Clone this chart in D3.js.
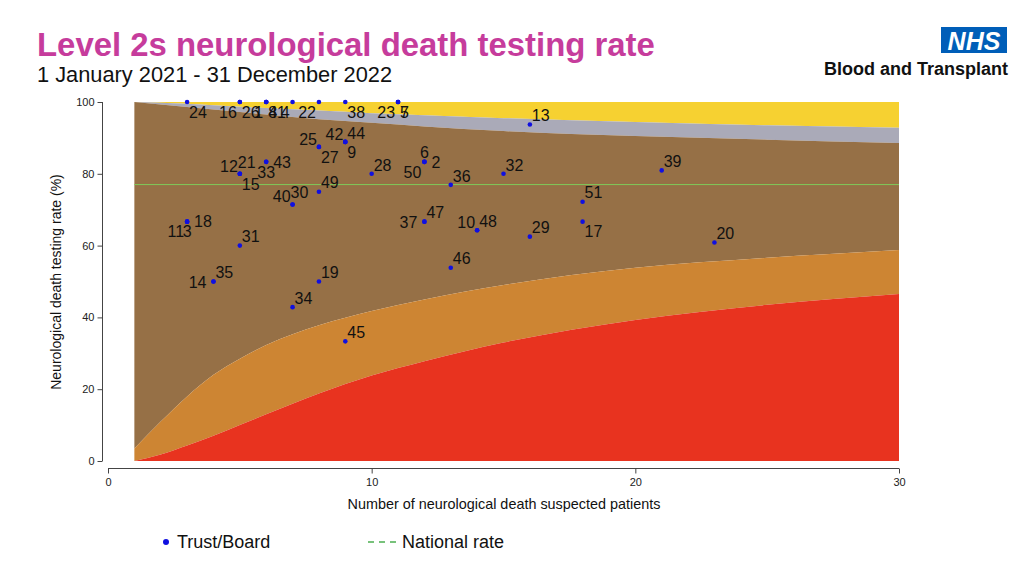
<!DOCTYPE html>
<html><head><meta charset="utf-8">
<script src="https://cdn.jsdelivr.net/npm/d3@7"></script>
<style>body{margin:0;background:#fff}svg{display:block}text{font-family:"Liberation Sans",Arial,sans-serif}</style>
</head><body><svg id="c" width="1024" height="576"></svg>
<script>
// ---- data ----
const limitN   = [1, 2, 3, 4, 5, 6, 8, 10, 12, 15, 20, 25, 30];
const upper998 = [100, 99.8, 99.5, 99.1, 98.7, 98.3, 97.6, 96.9, 96.3, 95.5, 94.4, 93.5, 92.8];
const upper95  = [100, 99.3, 98.6, 97.9, 97.2, 96.5, 95.2, 94.2, 93.2, 91.9, 90.5, 89.5, 88.6];
const lower95  = [3.5, 11, 18, 24, 28.5, 32.3, 37.8, 41.8, 45, 49, 53.8, 56.6, 58.8];
const lower998 = [0, 1.8, 4.3, 7, 10, 13, 18.8, 23.8, 27.8, 33, 39.3, 43.5, 46.5];
const nationalRate = 77;

const trustLabels   = [24,16,26,1,8,41,4,22,38,23,7,5, 13,25,27,42,44,9, 12,21,15,43,33, 40,30,49,28, 50,6,2,36,32,39,51, 37,47,10,48,29,17,46,20, 18,11,3,31,14,35,19,34,45];
const trustPatients = [3,5,5,6,6,6,7,8,9,11,11,11, 16,8,8,9,9,9, 5,5,5,6,6, 7,7,8,10, 12,12,12,13,15,21,18, 12,12,14,14,16,18,13,23, 3,3,3,5,4,4,8,7,9];
const trustRates    = [100,100,100,100,100,100,100,100,100,100,100,100, 93.75,87.5,87.5,88.89,88.89,88.89, 80,80,80,83.33,83.33, 71.43,71.43,75,80, 83.33,83.33,83.33,76.92,80,80.95,72.22, 66.67,66.67,64.29,64.29,62.5,66.67,53.85,60.87, 66.67,66.67,66.67,60,50,50,50,42.86,33.33];

const xTicks = [0, 10, 20, 30];
const yTicks = [0, 20, 40, 60, 80, 100];

// ---- drawing ----
const svg = d3.select("#c");
const x = d3.scaleLinear().domain([0, 30]).range([108, 899]);
const y = d3.scaleLinear().domain([0, 100]).range([461, 102]);

const limits = limitN.map((n, i) => ({n, u998: upper998[i], u95: upper95[i], l95: lower95[i], l998: lower998[i]}));
const band = (lo, hi) => d3.area().curve(d3.curveMonotoneX).x(d => x(d.n)).y0(lo).y1(hi);

svg.append("path").datum(limits).attr("fill", "#f6d131").attr("d", band(d => y(d.u998), () => y(100)));
svg.append("path").datum(limits).attr("fill", "#aaaab8").attr("d", band(d => y(d.u95), d => y(d.u998)));
svg.append("path").datum(limits).attr("fill", "#967046").attr("d", band(d => y(d.l95), d => y(d.u95)));
svg.append("path").datum(limits).attr("fill", "#cd8533").attr("d", band(d => y(d.l998), d => y(d.l95)));
svg.append("path").datum(limits).attr("fill", "#e8331f").attr("d", band(() => y(0), d => y(d.l998)));

// national rate
svg.append("line").attr("x1", x(1)).attr("x2", x(30)).attr("y1", y(nationalRate)).attr("y2", y(nationalRate))
  .attr("stroke", "#7fc95a").attr("stroke-width", 1);

// axes
const yAxis = svg.append("g").attr("transform", "translate(102.5,0)")
  .call(d3.axisLeft(y).tickValues(yTicks).tickSize(5).tickPadding(3));
const xAxis = svg.append("g").attr("transform", "translate(0,468.5)")
  .call(d3.axisBottom(x).tickValues(xTicks).tickSize(5).tickPadding(5));
[yAxis, xAxis].forEach(g => {
  g.selectAll("path,line").attr("stroke", "#444");
  g.selectAll("text").attr("font-size", 11).attr("fill", "#222").attr("font-family", "Liberation Sans, Arial, sans-serif");
});
yAxis.select(".domain").attr("d", "M0," + (y(100)) + "V" + (y(0)));
xAxis.select(".domain").attr("d", "M" + x(0) + ",0H" + x(30));

// points
const trusts = trustLabels.map((l, i) => ({label: l, n: trustPatients[i], rate: trustRates[i]}));
svg.append("g").selectAll("circle").data(trusts).join("circle")
  .attr("cx", d => x(d.n)).attr("cy", d => y(d.rate)).attr("r", 2.3).attr("fill", "#1010e0");

// label clock positions (Stata-style)
const labelClock = {24:4,16:8,26:4,1:8,8:4,41:4,4:8,22:8,38:4,23:8,7:4,5:4,13:2,25:10,27:4,42:10,44:2,9:4,
  12:10,21:1,15:4,43:3,33:6,40:10,30:1,49:2,28:2,50:8,6:12,2:3,36:2,32:2,39:2,51:2,37:9,47:2,10:10,48:2,29:2,17:4,46:2,20:2,
  18:3,11:8,3:6,31:2,14:9,35:2,19:2,34:2,45:2};
const off = {1:[-2,-12,"start"],2:[2,-9,"start"],3:[7,0,"start"],4:[2,10,"start"],6:[0,10,"middle"],
  8:[-3,10,"end"],9:[-7,1,"end"],10:[-2,-8,"end"],12:[0,-10,"middle"]};
svg.append("g").selectAll("text").data(trusts).join("text")
  .attr("x", d => x(d.n) + off[labelClock[d.label]][0])
  .attr("y", d => y(d.rate) + off[labelClock[d.label]][1] + 5.7)
  .attr("text-anchor", d => off[labelClock[d.label]][2])
  .attr("font-size", 16).attr("fill", "#111").text(d => d.label);

// axis titles
svg.append("text").attr("transform", "translate(61,282) rotate(-90)").attr("text-anchor", "middle")
  .attr("font-size", 14).attr("fill", "#111").text("Neurological death testing rate (%)");
svg.append("text").attr("x", 504).attr("y", 509).attr("text-anchor", "middle")
  .attr("font-size", 14.4).attr("fill", "#111").text("Number of neurological death suspected patients");

// legend
svg.append("circle").attr("cx", 166).attr("cy", 542).attr("r", 3).attr("fill", "#1010e0");
svg.append("text").attr("x", 177).attr("y", 548).attr("font-size", 18).attr("fill", "#111").text("Trust/Board");
svg.append("line").attr("x1", 368).attr("x2", 397).attr("y1", 542).attr("y2", 542)
  .attr("stroke", "#4caf50").attr("stroke-width", 1.3).attr("stroke-dasharray", "6,5");
svg.append("text").attr("x", 402).attr("y", 548).attr("font-size", 18).attr("fill", "#111").text("National rate");

// titles
svg.append("text").attr("x", 37).attr("y", 56).attr("font-size", 32.9).attr("font-weight", "bold")
  .attr("fill", "#c63c9c").text("Level 2s neurological death testing rate");
svg.append("text").attr("x", 37).attr("y", 82).attr("font-size", 21.8).attr("fill", "#111")
  .text("1 January 2021 - 31 December 2022");

// NHS logo
svg.append("rect").attr("x", 941).attr("y", 27).attr("width", 66).attr("height", 26).attr("fill", "#005eb8");
svg.append("text").attr("x", 974).attr("y", 49.5).attr("text-anchor", "middle").attr("font-size", 25)
  .attr("font-weight", "bold").attr("font-style", "italic").attr("fill", "#fff").text("NHS");
svg.append("text").attr("x", 1008).attr("y", 75).attr("text-anchor", "end").attr("font-size", 18)
  .attr("font-weight", "bold").attr("fill", "#111").text("Blood and Transplant");
</script></body></html>
